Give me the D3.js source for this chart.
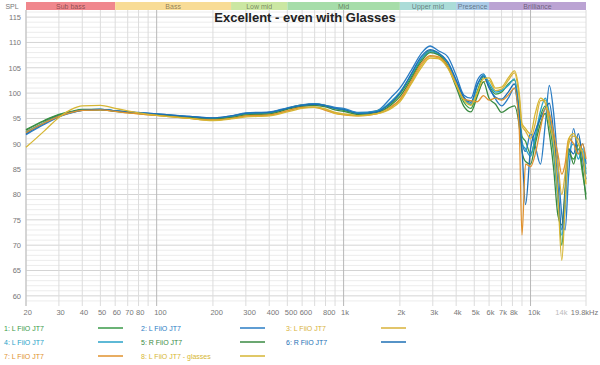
<!DOCTYPE html>
<html>
<head>
<meta charset="utf-8">
<script src="https://cdn.jsdelivr.net/npm/d3@7"></script>
<style>
  body { margin: 0; background: #fff; }
  svg { font-family: "Liberation Sans", Arial, sans-serif; }
</style>
</head>
<body>
<div id="chart"></div>
<script>
// frequency grid (Hz) shared by all traces
var freqs = [20, 25, 30, 35, 40, 50, 60, 70, 80, 100, 150, 200, 250, 300, 400, 500, 600, 700, 800, 900,
  1000, 1200, 1500, 1800, 2000, 2300, 2600, 2900, 3200, 3600, 4000, 4400, 4800, 5200, 5600, 6000,
  6500, 7000, 7600, 8200, 8700, 9000, 9400, 10000, 10600, 11300, 12000, 12600, 13300, 14000,
  14700, 15300, 16000, 17000, 18000, 19000, 19800];

var names = ["1: L FiiO JT7", "2: L FiiO JT7", "3: L FiiO JT7", "4: L FiiO JT7",
  "5: R FiiO JT7", "6: R FiiO JT7", "7: L FiiO JT7", "8: L FiiO JT7 - glasses"];

var s1 = [92.8, 94.6, 95.8, 96.4, 96.8, 96.8, 96.5, 96.2, 96.0, 95.8, 95.3, 95.0, 95.4, 95.9, 96.1, 97.0, 97.7, 97.8, 97.6, 97.0,
  96.6, 96.0, 96.5, 98.0, 99.8, 103.2, 106.6, 108.4, 107.8, 105.6, 101.8, 98.2, 97.0, 100.5, 103.2, 101.5,
  99.8, 100.2, 101.8, 102.6, 96.5, 91.5, 90.5, 88, 91, 95.5, 97.5, 94, 88, 80,
  70, 79, 88, 87, 89, 84, 80];
var s2 = [91.8, 93.8, 95.3, 96.1, 96.6, 96.8, 96.5, 96.3, 96.2, 95.9, 95.4, 95.1, 95.5, 96.1, 96.3, 97.1, 97.7, 97.9, 97.6, 97.2,
  97.0, 96.2, 96.5, 99.2, 101.0, 104.5, 107.8, 109.3, 108.4, 107.2, 103.5, 99.6, 99.0, 102.6, 103.8, 101.2,
  98.8, 97.5, 99.0, 101.0, 95, 90.5, 88.5, 92, 89.5, 86, 94, 101.5, 96, 86,
  76, 73, 84, 93, 88, 90, 86];
var s3 = [92.4, 94.2, 95.5, 96.2, 96.6, 96.7, 96.4, 96.1, 95.9, 95.6, 95.0, 94.7, 95.0, 95.5, 95.7, 96.5, 97.2, 97.3, 96.9, 96.2,
  95.9, 95.6, 96.0, 97.4, 98.6, 102.0, 105.4, 107.2, 107.0, 105.2, 102.0, 99.0, 97.8, 100.0, 102.2, 102.5,
  100.5, 100.8, 102.5, 104.0, 99, 93.5, 92.5, 91, 94, 98.5, 98.6, 95, 91, 86,
  80, 84, 90, 91.5, 91, 88, 85];
var s4 = [92.3, 94.2, 95.5, 96.2, 96.7, 96.8, 96.5, 96.3, 96.1, 95.8, 95.3, 95.0, 95.4, 96.0, 96.2, 97.0, 97.6, 97.8, 97.5, 97.0,
  96.8, 96.1, 96.4, 98.4, 100.2, 103.6, 106.8, 108.2, 107.8, 106.0, 102.4, 99.0, 97.8, 101.5, 103.6, 102.0,
  100.2, 100.5, 101.5, 102.8, 96, 90, 89, 87.5, 91.5, 96.5, 99, 96, 89, 79,
  72, 77, 88, 90, 87, 89, 84];
var s5 = [92.7, 94.5, 95.7, 96.3, 96.7, 96.7, 96.4, 96.2, 96.0, 95.7, 95.2, 94.9, 95.2, 95.7, 95.9, 96.8, 97.4, 97.6, 97.3, 96.7,
  96.4, 95.8, 96.2, 97.7, 99.3, 102.8, 106.2, 108.0, 107.6, 105.3, 101.2, 97.4, 96.3, 99.5, 102.2, 99.0,
  97.8, 96.2, 97.0, 97.5, 93.5, 88.5, 86.5, 86, 90, 94, 96, 92, 85, 76,
  74, 81, 89, 86, 90, 85, 79];
var s6 = [92.0, 94.0, 95.4, 96.2, 96.6, 96.8, 96.5, 96.3, 96.1, 95.9, 95.4, 95.1, 95.5, 96.0, 96.2, 97.0, 97.6, 97.8, 97.5, 97.0,
  96.8, 96.0, 96.3, 98.2, 100.0, 103.8, 107.2, 108.6, 108.0, 106.2, 102.6, 99.2, 98.2, 101.8, 103.4, 101.0,
  99.2, 98.8, 100.2, 101.8, 95.5, 89, 78, 89, 92.5, 95, 97, 98, 92, 82,
  73, 80, 89, 88, 92, 87, 83];
var s7 = [92.2, 94.1, 95.4, 96.2, 96.6, 96.7, 96.4, 96.1, 95.9, 95.6, 95.0, 94.7, 95.0, 95.5, 95.7, 96.5, 97.2, 97.2, 96.6, 96.0,
  95.7, 95.5, 95.9, 97.2, 98.8, 102.4, 105.8, 107.4, 107.2, 105.4, 101.8, 98.8, 98.5, 98.3, 99.5, 98.6,
  99.0, 98.6, 99.6, 101.0, 93, 72, 86, 85.5, 88, 93, 97, 96, 92, 88,
  84, 86, 91, 90, 88, 90, 87];
var s8 = [89.3, 92.5, 95.2, 96.8, 97.5, 97.6, 97.0, 96.5, 96.1, 95.6, 95.0, 94.6, 94.9, 95.3, 95.5, 96.3, 97.0, 97.2, 96.8, 96.0,
  95.8, 95.5, 95.9, 97.0, 98.3, 101.8, 105.0, 106.9, 106.8, 105.0, 101.6, 98.6, 97.6, 100.2, 102.8, 103.0,
  101.0, 101.2, 103.0, 104.4, 100, 94, 93, 92, 96, 99, 98, 94, 90, 80,
  67, 78, 91, 92, 90, 88, 82];

var seriesData = [s1, s2, s3, s4, s5, s6, s7, s8];
var seriesColors = ["#3a9a48", "#2a7cc4", "#d8b23a", "#28a2c8", "#3a8a42", "#1e6fb4", "#e0922e", "#d6b634"];

// frequency bands on top
var bandNames = ["Sub bass", "Bass", "Low mid", "Mid", "Upper mid", "Presence", "Brilliance"];
var bandEdges = [20, 60, 250, 500, 2000, 4000, 6000, 19800];
var bandColors = ["#f0878d", "#f8dc96", "#cbe7a2", "#a6dda9", "#abdcd8", "#abcbe7", "#bba3d3"];

var yTicks = [60, 65, 70, 75, 80, 85, 90, 95, 100, 105, 110, 115];
var xTickVals = [20, 30, 40, 50, 60, 70, 80, 100, 200, 300, 400, 500, 600, 800, 1000,
  2000, 3000, 4000, 5000, 6000, 7000, 8000, 10000, 14000, 19800];
var xTickText = ["20", "30", "40", "50", "60", "70", "80", "100", "200", "300", "400", "500", "600", "800", "1k",
  "2k", "3k", "4k", "5k", "6k", "7k", "8k", "10k", "14k", "19.8kHz"];

var svgWidth = 600;
var svgHeight = 365;
var plot = { left: 26, right: 586, top: 10, bottom: 306 };

var svg = d3.select("#chart")
  .append("svg")
  .attr("width", svgWidth)
  .attr("height", svgHeight);

var x = d3.scaleLog().domain([20, 19800]).range([plot.left, plot.right]);
var y = d3.scaleLinear().domain([58, 116.4]).range([plot.bottom, plot.top]);

// horizontal grid: 1 dB minor, 5 dB major
var grid = svg.append("g");
grid.selectAll("line.hminor")
  .data(d3.range(59, 117, 1))
  .enter().append("line")
  .attr("x1", plot.left).attr("x2", plot.right)
  .attr("y1", d => y(d)).attr("y2", d => y(d))
  .attr("stroke", d => d % 5 === 0 ? "#d4d4d4" : "#ececec")
  .attr("stroke-width", 1);

// vertical grid
var vLines = [];
[10, 100, 1000, 10000].forEach(function(dec) {
  for (var k = 1; k < 10; k++) {
    var f = dec * k;
    if (f >= 20 && f <= 19800) vLines.push(f);
  }
});
grid.selectAll("line.v")
  .data(vLines)
  .enter().append("line")
  .attr("x1", d => x(d)).attr("x2", d => x(d))
  .attr("y1", plot.top).attr("y2", plot.bottom)
  .attr("stroke", d => (d === 100 || d === 1000 || d === 10000) ? "#b8b8b8" : "#dcdcdc")
  .attr("stroke-width", 1);

// right border and left axis line
svg.append("line")
  .attr("x1", plot.right).attr("x2", plot.right)
  .attr("y1", plot.top).attr("y2", plot.bottom)
  .attr("stroke", "#dcdcdc");
svg.append("line")
  .attr("x1", plot.left).attr("x2", plot.left)
  .attr("y1", plot.top).attr("y2", plot.bottom)
  .attr("stroke", "#bdbdbd");

// axes labels
var yAxis = d3.axisLeft(y).tickValues(yTicks).tickSize(0).tickPadding(5);
var yG = svg.append("g")
  .attr("transform", `translate(${plot.left}, 0)`)
  .call(yAxis);
yG.select(".domain").remove();
yG.selectAll("text").attr("fill", "#777").attr("font-size", 7.5);

var xAxis = d3.axisBottom(x).tickValues(xTickVals).tickSize(0).tickPadding(4)
  .tickFormat((d, i) => xTickText[i]);
var xG = svg.append("g")
  .attr("transform", `translate(0, ${plot.bottom})`)
  .call(xAxis);
xG.select(".domain").remove();
xG.selectAll("text")
  .attr("fill", d => d === 14000 ? "#bbb" : "#777")
  .attr("font-size", 7.5)
  .attr("text-anchor", d => d === 19800 ? "middle" : "start")
  .attr("dx", d => d === 19800 ? -2 : -3);

// band bar
var bands = svg.append("g");
bands.selectAll("rect")
  .data(bandNames)
  .enter().append("rect")
  .attr("x", (d, i) => x(bandEdges[i]))
  .attr("y", 2)
  .attr("width", (d, i) => x(bandEdges[i + 1]) - x(bandEdges[i]))
  .attr("height", 8)
  .attr("fill", (d, i) => bandColors[i]);
bands.selectAll("text")
  .data(bandNames)
  .enter().append("text")
  .attr("x", (d, i) => (x(bandEdges[i]) + x(bandEdges[i + 1])) / 2)
  .attr("y", 8.8)
  .attr("text-anchor", "middle")
  .attr("font-size", 7)
  .attr("fill", "#000")
  .attr("fill-opacity", 0.45)
  .text(d => d);
svg.append("text")
  .attr("x", 12).attr("y", 8.8)
  .attr("text-anchor", "middle")
  .attr("font-size", 7)
  .attr("fill", "#777")
  .text("SPL");

// traces
var line = d3.line()
  .x((d, i) => x(freqs[i]))
  .y(d => y(d))
  .curve(d3.curveMonotoneX);

svg.append("g")
  .selectAll("path")
  .data(seriesData)
  .enter().append("path")
  .attr("d", d => line(d))
  .attr("fill", "none")
  .attr("stroke", (d, i) => seriesColors[i])
  .attr("stroke-width", 1.3)
  .attr("stroke-linejoin", "round");

// title
svg.append("text")
  .attr("x", 305).attr("y", 22)
  .attr("text-anchor", "middle")
  .attr("font-size", 13)
  .attr("font-weight", "bold")
  .attr("fill", "#222")
  .text("Excellent - even with Glasses");

// legend
var legX = [4, 141, 286];
var legLineX = [98, 240, 381];
var legY = [328, 342, 356];
var legend = svg.append("g")
  .selectAll("g")
  .data(names)
  .enter().append("g");
legend.append("text")
  .attr("x", (d, i) => legX[i % 3])
  .attr("y", (d, i) => legY[Math.floor(i / 3)] + 2.5)
  .attr("font-size", 7)
  .attr("fill", (d, i) => seriesColors[i])
  .text(d => d);
legend.append("line")
  .attr("x1", (d, i) => legLineX[i % 3])
  .attr("x2", (d, i) => legLineX[i % 3] + 25)
  .attr("y1", (d, i) => legY[Math.floor(i / 3)])
  .attr("y2", (d, i) => legY[Math.floor(i / 3)])
  .attr("stroke", (d, i) => seriesColors[i])
  .attr("stroke-width", 1.5);
</script>
</body>
</html>
